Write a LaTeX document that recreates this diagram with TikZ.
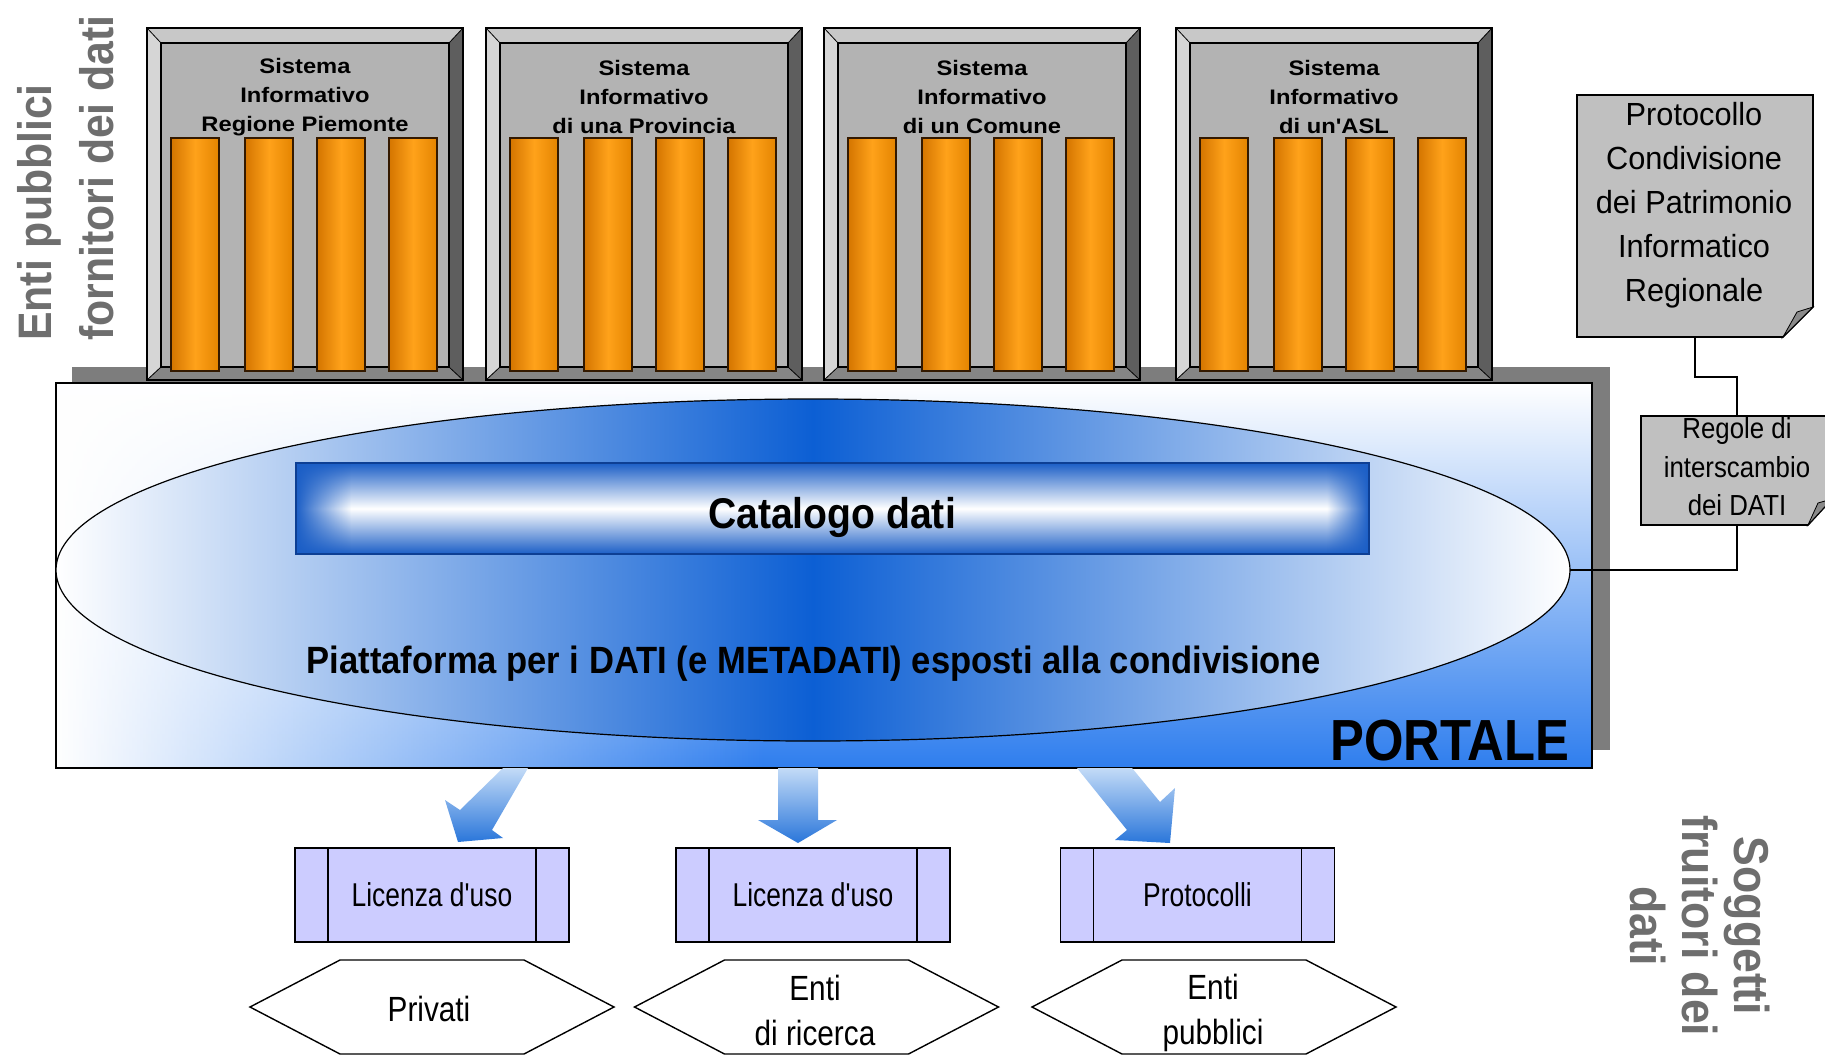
\documentclass[tikz,border=0pt]{standalone}
\usepackage{fontspec}
\setmainfont{Liberation Sans}
\newfontfamily\fBig[FakeStretch=0.91]{Liberation Sans}
\newfontfamily\fPort[FakeStretch=0.875]{Liberation Sans}
\newfontfamily\fSys[FakeStretch=1.13]{Liberation Sans}
\newfontfamily\fDoc[FakeStretch=0.96]{Liberation Sans}
\newfontfamily\fReg[FakeStretch=0.89]{Liberation Sans}
\newfontfamily\fLic[FakeStretch=0.80]{Liberation Sans}
\newfontfamily\fHex[FakeStretch=0.85]{Liberation Sans}
\usetikzlibrary{shapes.geometric,fadings}
\definecolor{labgray}{HTML}{6E6E6E}
\definecolor{bevlight}{HTML}{D6D6D6}
\definecolor{bevtop}{HTML}{C8C8C8}
\definecolor{bevdark}{HTML}{5E5E5E}
\definecolor{bevbot}{HTML}{858585}
\definecolor{face}{HTML}{B3B3B3}
\definecolor{orgdark}{HTML}{D47500}
\definecolor{orgmid}{HTML}{FFA21A}
\definecolor{orgright}{HTML}{E48400}
\definecolor{shadowgray}{HTML}{7D7D7D}
\definecolor{portalblue}{HTML}{2F7EEE}
\definecolor{ellblue}{HTML}{0C5FD4}
\definecolor{catblue}{HTML}{1B5EC6}
\definecolor{catedge}{HTML}{0D3F94}
\definecolor{docgray}{HTML}{C0C0C0}
\definecolor{flapgray}{HTML}{8A8A8A}
\definecolor{arrowtop}{HTML}{C3DBF7}
\definecolor{arrowbot}{HTML}{2A76DA}
\definecolor{lav}{HTML}{CCCCFF}
\tikzset{
  every node/.style={inner sep=0pt, outer sep=0pt},
  sidelab/.style={text=labgray, font=\fBig\bfseries\fontsize{47}{62}\selectfont},
  systext/.style={align=center, font=\fSys\bfseries\fontsize{21}{29}\selectfont},
  bar/.style={left color=orgdark, right color=orgright, middle color=orgmid, draw=black!80!orange, line width=1.2pt},
  bevel/.style={draw=black, line width=0.8pt},
  lic/.style={draw=black, line width=1.8pt, fill=lav, minimum width=274pt, minimum height=94pt, font=\fLic\fontsize{33}{40}\selectfont},
  hex/.style={draw=black, line width=1.4pt, fill=white},
  hextext/.style={align=center, font=\fHex\fontsize{35}{45}\selectfont},
  doc/.style={draw=black, line width=1.6pt, fill=docgray},
  flap/.style={draw=black, line width=0.8pt, fill=flapgray},
  conn/.style={draw=black, line width=2pt},
  bigarrow/.style={top color=arrowtop, bottom color=arrowbot},
}
\newcommand\sysbox[3]{%
  \begin{scope}[shift={(#1,0)}]
    \fill[bevtop]   (0,28) -- (316,28) -- (302,43) -- (14,43) -- cycle;
    \fill[bevlight] (0,28) -- (14,43) -- (14,367) -- (0,380) -- cycle;
    \fill[bevdark]  (316,28) -- (316,380) -- (302,367) -- (302,43) -- cycle;
    \fill[bevbot]   (0,380) -- (316,380) -- (302,367) -- (14,367) -- cycle;
    \fill[face] (14,43) rectangle (302,367);
    \draw[bevel] (0,28) -- (14,43) (316,28) -- (302,43) (0,380) -- (14,367) (316,380) -- (302,367);
    \draw[line width=1.5pt] (14,43) rectangle (302,367);
    \draw[line width=2pt] (0,28) rectangle (316,380);
    \node[systext] (#2) at (158,97) {Sistema\\Informativo\\#3};
    \foreach \o in {24,98,170,242}{\shadedraw[bar] (\o,138) rectangle ++(48,233);}
  \end{scope}}
\begin{document}
\begin{tikzpicture}[x=1pt,y=-1pt]
\useasboundingbox (0,0) rectangle (1825,1055);
\fill[white] (0,0) rectangle (1825,1055);
\clip (0,0) rectangle (1825,1055);

% left side label
\node[sidelab, rotate=90, align=left] (fornitori) at (66,178) {Enti pubblici\\fornitori dei dati};

% shadow of portal
\fill[shadowgray] (72,367) rectangle (1610,750);

% server boxes
\sysbox{147}{s1}{Regione Piemonte}
\sysbox{486}{s2}{di una Provincia}
\sysbox{824}{s3}{di un Comune}
\sysbox{1176}{s4}{di un'ASL}

% portal
\node[top color=white, bottom color=portalblue,
      minimum width=1536pt, minimum height=385pt] (portal) at (824,575.5) {};
\fill[white, path fading=east] (portal.north west) rectangle ([xshift=-60pt]portal.south);
\draw[line width=2pt] (portal.north west) rectangle (portal.south east);
\node[ellipse, draw=black, line width=1.2pt, left color=white, right color=white, middle color=ellblue,
      minimum width=1514pt, minimum height=342pt] (plat) at (813,570) {};

% catalogo
\node[top color=catblue, bottom color=catblue, middle color=white,
      minimum width=1073pt, minimum height=91pt] (cat) at (832.5,508.5) {};
\fill[catblue, path fading=east] (cat.north west) rectangle ([xshift=55pt]cat.south west);
\fill[catblue, path fading=west] ([xshift=-42pt]cat.north east) rectangle (cat.south east);
\draw[catedge, line width=2pt] (cat.north west) rectangle (cat.south east);
\node[anchor=base, font=\fBig\bfseries\fontsize{43}{50}\selectfont] (cattxt) at (832,528) {Catalogo dati};

\node[anchor=base, font=\fBig\bfseries\fontsize{38}{46}\selectfont] (piatt) at (814,673) {Piattaforma per i DATI (e METADATI) esposti alla condivisione};
\node[anchor=base, font=\fPort\bfseries\fontsize{58}{64}\selectfont] (portxt) at (1450,760) {PORTALE};

% documents on the right
\node[minimum width=236pt, minimum height=242pt] (proto) at (1695,216) {};
\filldraw[doc] (proto.north west) -- (proto.north east) -- ([yshift=30pt]proto.south east)
   -- ([xshift=-30pt]proto.south east) -- (proto.south west) -- cycle;
\filldraw[flap] ([yshift=30pt]proto.south east) -- ([xshift=-16pt,yshift=25pt]proto.south east)
   -- ([xshift=-30pt]proto.south east) -- cycle;
\node[align=center, font=\fDoc\fontsize{32}{44}\selectfont] (prototxt) at (1694,205)
   {Protocollo\\Condivisione\\dei Patrimonio\\Informatico\\Regionale};

\node[minimum width=191pt, minimum height=109pt] (regole) at (1736.5,470.5) {};
\filldraw[doc] (regole.north west) -- (regole.north east) -- ([yshift=26pt]regole.south east)
   -- ([xshift=-24pt]regole.south east) -- (regole.south west) -- cycle;
\filldraw[flap] ([yshift=26pt]regole.south east) -- ([xshift=-14pt,yshift=22pt]regole.south east)
   -- ([xshift=-24pt]regole.south east) -- cycle;
\node[align=center, font=\fReg\fontsize{29}{38.5}\selectfont] (regtxt) at (1737,467)
   {Regole di\\interscambio\\dei DATI};

\draw[conn] (proto.south) -- ++(0,40) -| (regole.north);
\draw[conn] (regole.south) |- (plat.east);

% arrows
\shade[bigarrow] (503,768) -- (460,810) -- (445,800) -- (458,842) -- (503,838) -- (492,830) -- (528,768) -- cycle;
\shade[bigarrow] (778,768) -- (778,820) -- (758,820) -- (798,843) -- (837,820) -- (818,820) -- (818,768) -- cycle;
\shade[bigarrow] (1077,768) -- (1127,830) -- (1115,840) -- (1170,843) -- (1175,788) -- (1160,802) -- (1132,768) -- cycle;

% lower boxes
\node[lic] (b1) at (432,895) {Licenza d'uso};
\node[lic] (b2) at (813,895) {Licenza d'uso};
\node[lic] (b3) at (1197.5,895) {Protocolli};
\foreach \b in {b1,b2,b3}{
  \draw[line width=1.8pt] ([xshift=33pt]\b.north west) -- ([xshift=33pt]\b.south west);
  \draw[line width=1.8pt] ([xshift=-33pt]\b.north east) -- ([xshift=-33pt]\b.south east);
}

% hexagons
\foreach \cx in {432,816.5,1214}{
  \filldraw[hex] (\cx-182,1007) -- (\cx-92,960) -- (\cx+92,960) -- (\cx+182,1007) -- (\cx+92,1054) -- (\cx-92,1054) -- cycle;
}
\node[hextext] (h1) at (429,1009) {Privati};
\node[hextext] (h2) at (815,1010) {Enti\\di ricerca};
\node[hextext] (h3) at (1213,1013) {Enti\\pubblici};

% right side label
\node[sidelab, rotate=-90, align=center, font=\fBig\bfseries\fontsize{49}{52}\selectfont] (fruitori) at (1700,926) {Soggetti\\fruitori dei\\dati};
\end{tikzpicture}
\end{document}
